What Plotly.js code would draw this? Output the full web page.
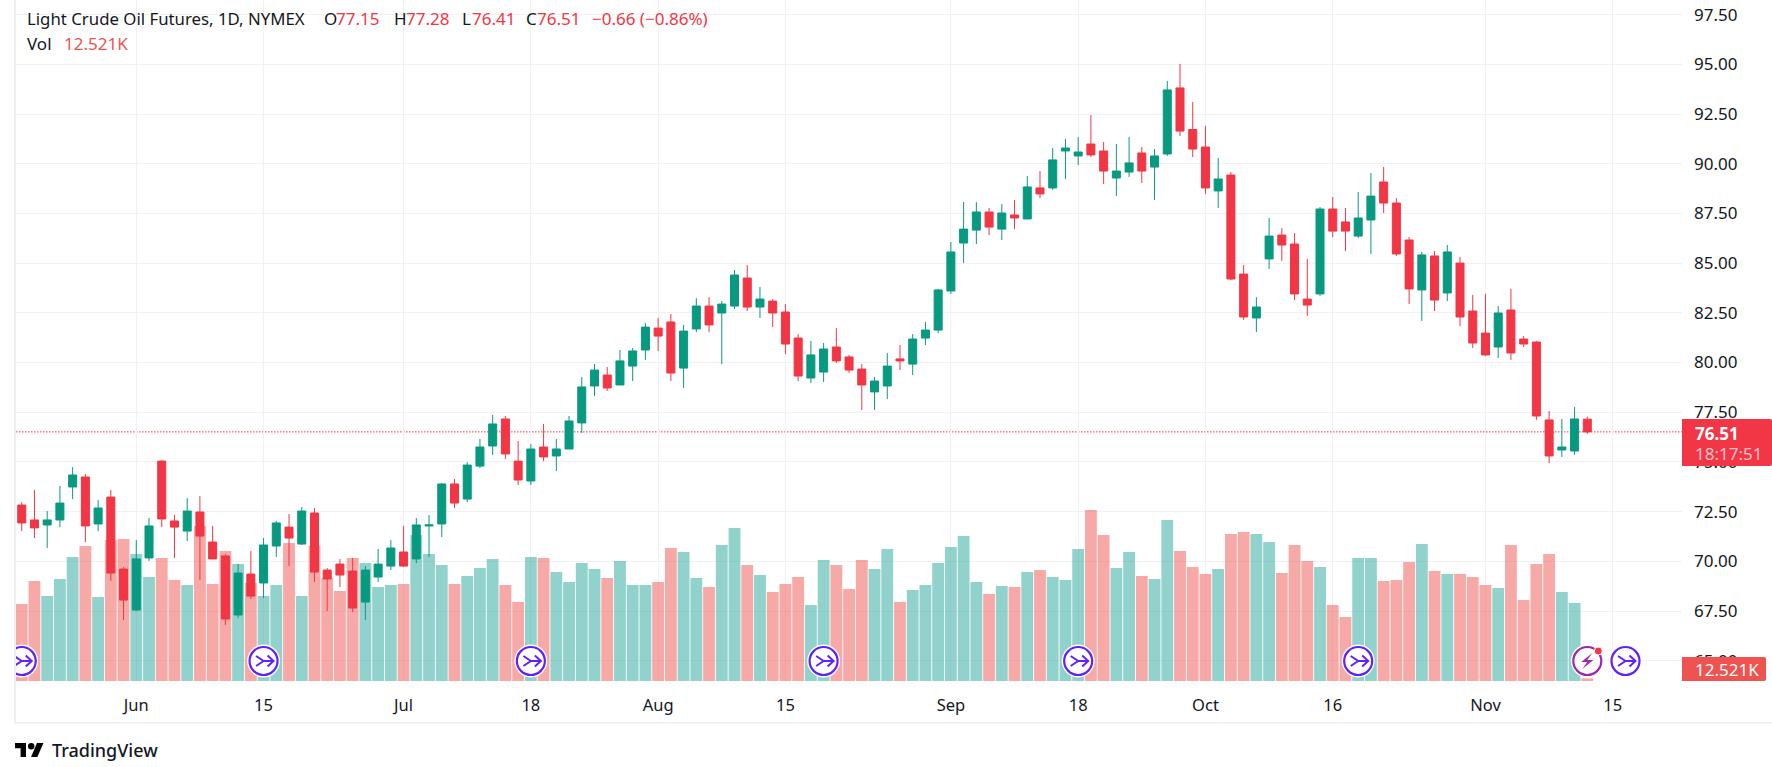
<!DOCTYPE html>
<html>
<head>
<meta charset="utf-8">
<script src="https://cdn.plot.ly/plotly-3.0.1.min.js"></script>
<style>
    html, body { margin: 0; padding: 0; background: #ffffff; }
</style>
</head>
<body>
<div id="chart" style="width:1772px;height:767px;"></div>
<script>
const opens = [72.83,72.08,71.83,72.08,73.74,74.24,71.88,73.23,69.61,67.55,70.17,75.04,72.03,71.52,72.48,70.97,70.27,67.30,69.36,68.91,70.77,71.72,70.87,72.43,69.56,69.86,69.51,67.95,69.21,69.76,70.47,70.12,71.78,71.88,73.89,73.13,74.79,75.80,77.16,75.04,74.04,75.75,75.30,75.65,76.96,78.82,79.37,78.87,79.82,80.63,81.73,82.04,79.72,81.69,82.84,82.49,82.84,84.25,82.79,83.09,82.54,81.23,79.22,79.52,80.78,80.28,79.67,78.52,78.82,80.18,79.92,81.23,81.63,83.60,86.01,86.66,87.57,86.71,87.42,87.22,88.78,88.78,90.64,90.39,90.99,90.64,89.28,89.58,90.54,89.83,90.49,93.81,91.72,90.84,88.63,89.43,84.45,82.24,85.21,86.41,85.96,83.19,83.45,87.72,87.07,86.36,87.17,89.08,88.02,86.16,83.65,85.36,83.50,85.00,82.59,81.48,80.78,82.64,81.18,81.03,77.11,75.60,75.55,77.15];
const highs = [72.98,73.59,72.53,73.79,74.74,74.39,73.08,73.59,69.71,71.07,72.18,75.09,72.33,73.18,73.28,71.78,70.37,69.86,70.52,71.17,72.03,72.38,72.73,72.68,69.66,70.12,70.17,69.76,70.62,71.07,71.78,72.18,72.33,73.94,74.14,74.99,76.15,77.36,77.31,76.05,75.90,76.91,76.15,77.31,79.27,79.92,79.77,80.63,80.73,81.99,82.24,82.44,81.89,83.24,83.29,83.09,84.65,84.90,83.80,83.19,82.94,81.43,81.08,80.98,81.73,80.38,79.92,79.27,80.48,80.88,81.43,82.04,83.70,86.06,88.07,88.07,87.77,87.97,88.17,89.38,89.63,90.79,91.24,91.34,92.45,91.09,90.99,91.34,90.84,90.74,94.16,95.02,93.10,91.90,90.29,89.58,84.90,83.29,87.27,86.76,86.51,85.21,87.82,88.32,87.77,88.58,89.53,89.83,88.27,86.31,85.56,85.61,85.91,85.31,83.40,83.45,82.84,83.70,81.33,81.08,77.56,77.16,77.76,77.28];
const lows = [71.52,71.17,70.67,71.72,73.13,70.97,71.52,69.01,67.05,67.50,70.02,71.72,70.17,71.02,69.06,70.12,66.80,67.15,68.10,68.15,70.22,69.76,70.82,68.96,67.50,68.71,67.45,67.05,68.96,69.56,69.71,69.91,70.22,71.22,72.68,72.98,74.69,75.35,75.15,73.84,73.84,75.04,74.54,75.65,76.45,78.31,78.57,78.87,79.07,80.13,80.58,79.07,78.72,81.53,81.53,79.92,82.69,82.59,82.24,81.78,80.43,79.07,78.97,79.02,79.97,79.47,77.61,77.61,78.16,79.62,79.37,80.88,81.48,83.45,85.00,85.96,86.41,86.16,86.71,87.22,88.27,88.68,89.23,89.93,90.34,88.98,88.37,89.33,89.03,88.17,90.39,91.39,90.34,88.48,87.77,84.15,82.14,81.53,84.70,85.11,83.14,82.34,83.35,86.31,85.61,86.26,85.46,87.52,85.36,82.94,82.09,82.59,83.09,81.83,80.73,80.33,80.23,80.13,80.78,77.11,74.94,75.25,75.35,76.41];
const closes = [71.93,71.68,72.08,72.93,74.34,71.78,72.68,69.41,68.05,70.12,71.78,72.13,71.72,72.53,71.27,70.12,67.10,69.41,68.25,70.82,71.93,71.17,72.53,69.46,69.11,69.31,67.65,69.56,69.86,70.67,69.76,71.83,71.83,73.89,72.93,74.84,75.75,76.91,75.40,74.09,75.65,75.25,75.65,77.06,78.77,79.62,78.72,80.08,80.58,81.78,81.33,79.47,81.58,82.84,81.89,82.94,84.40,82.79,83.19,82.49,80.93,79.32,80.38,80.68,80.08,79.62,78.87,79.07,79.82,80.08,81.18,81.63,83.65,85.56,86.71,87.57,86.81,87.52,87.27,88.83,88.48,90.19,90.79,90.59,90.44,89.63,89.63,90.04,89.63,90.39,93.71,91.64,90.74,88.78,89.23,84.20,82.29,82.79,86.36,85.91,83.45,82.89,87.72,86.61,86.61,87.27,88.37,88.02,85.46,83.70,85.41,83.14,85.56,82.29,80.98,80.38,82.49,80.48,80.93,77.31,75.30,75.75,77.16,76.51];
const volumes = [357,464,394,473,575,626,390,654,659,589,483,571,469,445,719,450,603,543,455,394,445,640,394,626,478,418,571,548,436,445,450,677,589,538,450,487,524,566,445,367,575,571,506,459,548,520,478,557,445,445,459,617,599,478,436,631,710,538,492,413,450,483,353,561,538,427,561,520,612,367,422,445,548,622,673,459,404,441,436,506,515,483,469,612,793,677,524,599,487,473,747,603,529,496,520,682,691,682,645,501,631,557,529,353,297,571,571,464,469,552,636,510,496,496,483,445,432,631,376,543,589,413,362,12.521];

const timeTickBars = [9,19,30,40,50,60,73,83,93,103,115,125];
const timeTickLabels = ['Jun','15','Jul','18','Aug','15','Sep','18','Oct','16','Nov','15'];
const priceTicks = [65,67.5,70,72.5,75,77.5,80,82.5,85,87.5,90,92.5,95,97.5];
const eventBars = [0,19,40,63,83,105,126];
const flashBar = 123;

const lastClose = 76.51;
const lastVolume = '12.521K';
const countdown = '18:17:51';

const GREEN = '#089981';
const RED = '#F23645';
const INK = '#131722';
const GRID = '#F1F1F3';
const EDGE = '#EDEDF3';
const PURPLE = '#6122FA';
const FONT = '"Noto Sans", sans-serif';

// plot box in page pixels, everything around it hangs off these
const PLOT = {l: 16, r: 1682, b: 681};
const plotW = PLOT.r - PLOT.l;
const px = (x) => (x - PLOT.l) / plotW;
const py = (y) => (PLOT.b - y) / PLOT.b;

function headerText(text, x, y, color, size) {
    return {
        text: text, xref: 'paper', yref: 'paper', x: px(x), y: py(y),
        xanchor: 'left', yanchor: 'middle', showarrow: false,
        font: {family: FONT, size: size || 17, color: color},
    };
}

function tagText(text, y, color) {
    return {
        text: text, xref: 'paper', yref: 'paper', x: px(1693), y: py(y),
        xanchor: 'left', yanchor: 'middle', showarrow: false,
        font: {family: FONT, size: 17, color: color},
    };
}

// axis tag with square left side and small rounded right corners
function axisTag(right, top, bottom, color) {
    const x0 = px(PLOT.r), x1 = px(right), xr = px(right - 2);
    const y0 = py(top), y1 = py(bottom), yr = 2 / PLOT.b;
    return {
        type: 'path', xref: 'paper', yref: 'paper', layer: 'above',
        path: `M${x0},${y0} L${xr},${y0} Q${x1},${y0} ${x1},${y0 - yr} L${x1},${y1 + yr} Q${x1},${y1} ${xr},${y1} L${x0},${y1} Z`,
        fillcolor: color, line: {width: 0},
    };
}

function eventIcon(bar) {
    const base = {
        xref: 'x', yref: 'paper', xsizemode: 'pixel', ysizemode: 'pixel',
        xanchor: bar, yanchor: py(661), layer: 'above',
    };
    return [
        Object.assign({}, base, {type: 'circle', x0: -16.5, x1: 16.5, y0: -16.5, y1: 16.5,
            fillcolor: '#ffffff', line: {width: 0}}),
        Object.assign({}, base, {type: 'circle', x0: -14, x1: 14, y0: -14, y1: 14,
            fillcolor: '#ffffff', line: {color: PURPLE, width: 2.2}}),
        Object.assign({}, base, {type: 'path', path: 'M-7.5,5 L0,0 L-7.5,-5 M0,0 L10,0 M4,5.5 L10,0 L4,-5.5',
            line: {color: PURPLE, width: 2}}),
    ];
}

function flashIcon(bar) {
    const base = {
        xref: 'x', yref: 'paper', xsizemode: 'pixel', ysizemode: 'pixel',
        xanchor: bar, yanchor: py(661), layer: 'above',
    };
    return [
        Object.assign({}, base, {type: 'circle', x0: -16.5, x1: 16.5, y0: -16.5, y1: 16.5,
            fillcolor: '#ffffff', line: {width: 0}}),
        Object.assign({}, base, {type: 'circle', x0: -14, x1: 14, y0: -14, y1: 14,
            fillcolor: '#ffffff', line: {color: '#9C27B0', width: 2.2}}),
        Object.assign({}, base, {type: 'path', path: 'M5,8 L-6,-1 L0,-1 L-5,-8 L6,1 L0,1 Z',
            fillcolor: '#9C27B0', line: {width: 0}}),
        Object.assign({}, base, {type: 'circle', x0: 7, x1: 15, y0: 6, y1: 14,
            fillcolor: RED, line: {color: '#ffffff', width: 1}}),
    ];
}

const logoBase = {
    xref: 'paper', yref: 'paper', xsizemode: 'pixel', ysizemode: 'pixel',
    xanchor: px(15), yanchor: py(759), layer: 'above',
    fillcolor: '#000000', line: {width: 0},
};

const volumeTrace = {
    type: 'bar',
    x: volumes.map((_, i) => i),
    y: volumes,
    yaxis: 'y',
    marker: {
        color: closes.map((c, i) => (c >= opens[i] ? 'rgba(38,166,154,0.5)' : 'rgba(239,83,80,0.5)')),
        line: {width: 0},
    },
    hoverinfo: 'skip',
};

const candleTrace = {
    type: 'candlestick',
    x: opens.map((_, i) => i),
    open: opens,
    high: highs,
    low: lows,
    close: closes,
    yaxis: 'y2',
    whiskerwidth: 0,
    increasing: {line: {color: GREEN, width: 1}, fillcolor: GREEN},
    decreasing: {line: {color: RED, width: 1}, fillcolor: RED},
};

const layout = {
    width: 1772,
    height: 767,
    margin: {l: PLOT.l, r: 1772 - PLOT.r, t: 0, b: 767 - PLOT.b},
    paper_bgcolor: '#ffffff',
    plot_bgcolor: '#ffffff',
    showlegend: false,
    bargap: 0.07,
    boxgap: 0.37,
    boxgroupgap: 0,
    font: {family: FONT, size: 16, color: INK},
    xaxis: {
        range: [-0.45, 130.44],
        tickmode: 'array',
        tickvals: timeTickBars,
        ticktext: timeTickLabels,
        showgrid: true,
        gridcolor: GRID,
        gridwidth: 1,
        zeroline: false,
        ticks: '',
        ticklabelstandoff: 12,
        rangeslider: {visible: false},
        tickfont: {family: FONT, size: 16.5, color: INK},
    },
    yaxis: {
        range: [0, 3160],
        visible: false,
        showgrid: false,
        zeroline: false,
    },
    yaxis2: {
        overlaying: 'y',
        side: 'right',
        range: [63.98, 98.234],
        tickmode: 'array',
        tickvals: priceTicks,
        ticktext: priceTicks.map((v) => v.toFixed(2)),
        showgrid: true,
        gridcolor: GRID,
        gridwidth: 1,
        zeroline: false,
        ticks: '',
        ticklabelstandoff: 11,
        tickfont: {family: FONT, size: 17, color: INK},
    },
    shapes: [
        // pane borders
        {type: 'rect', xref: 'paper', yref: 'paper', x0: px(14), x1: px(16), y0: py(723), y1: 1,
            fillcolor: EDGE, line: {width: 0}, layer: 'above'},
        {type: 'rect', xref: 'paper', yref: 'paper', x0: px(14), x1: px(1772), y0: py(723.5), y1: py(722),
            fillcolor: EDGE, line: {width: 0}, layer: 'above'},
        // last price line
        {type: 'line', xref: 'paper', yref: 'y2', x0: 0, x1: 1, y0: lastClose, y1: lastClose,
            line: {color: RED, width: 1, dash: '1.5px,1.5px'}, layer: 'below'},
        // axis tags
        axisTag(1772, 419, 466, RED),
        axisTag(1766, 657, 681, '#EF5350'),
        // TradingView mark
        Object.assign({}, logoBase, {type: 'path', path: 'M11,2 L5.6,2 L5.6,10.8 L0,10.8 L0,16 L11,16 Z'}),
        Object.assign({}, logoBase, {type: 'path', path: 'M22.4,2 L16,2 L22,16 L28.4,16 Z'}),
        Object.assign({}, logoBase, {type: 'circle', x0: 13, x1: 19.4, y0: 9.6, y1: 16}),
    ].concat(...eventBars.map(eventIcon), flashIcon(flashBar)),
    annotations: [
        headerText('Light Crude Oil Futures, 1D, NYMEX', 25, 19, INK, 16.8),
        headerText('O', 322, 19, INK),
        headerText('77.15', 334, 19, RED),
        headerText('H', 392, 19, INK),
        headerText('77.28', 404, 19, RED),
        headerText('L', 460, 19, INK),
        headerText('76.41', 470, 19, RED),
        headerText('C', 524, 19, INK),
        headerText('76.51', 535, 19, RED),
        headerText('\u22120.66 (\u22120.86%)', 590, 19, RED),
        headerText('Vol', 25, 44, INK),
        headerText(lastVolume, 62, 44, '#EF5350'),
        tagText('<b>' + lastClose.toFixed(2) + '</b>', 433, '#ffffff'),
        tagText(countdown, 453, '#FBC3C9'),
        tagText(lastVolume, 669, '#ffffff'),
        {text: 'TradingView', xref: 'paper', yref: 'paper', x: px(50), y: py(750),
            xanchor: 'left', yanchor: 'middle', showarrow: false,
            font: {family: FONT, size: 18, weight: 500, color: '#131722'}},
    ],
};

Plotly.newPlot('chart', [volumeTrace, candleTrace], layout, {displayModeBar: false, staticPlot: true});
</script>
</body>
</html>
